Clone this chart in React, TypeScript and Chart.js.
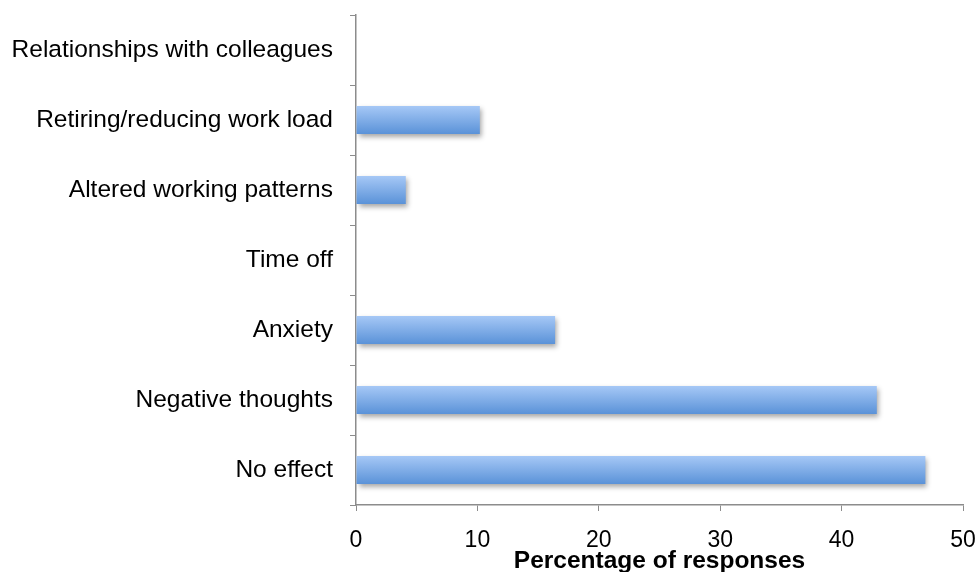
import React, { useEffect, useRef } from "react";
import { Chart, registerables } from "chart.js";

Chart.register(...registerables);

const categories = [
  "Relationships with colleagues",
  "Retiring/reducing work load",
  "Altered working patterns",
  "Time off",
  "Anxiety",
  "Negative thoughts",
  "No effect",
];
const values = [0, 10.2, 4.1, 0, 16.4, 42.9, 46.9];
const xTicks = [0, 10, 20, 30, 40, 50];
const xTitle = "Percentage of responses";

const shadowPlugin = {
  id: "barShadow",
  beforeDatasetsDraw(chart: any) {
    const c = chart.ctx;
    c.save();
    c.shadowColor = "rgba(0,0,0,0.35)";
    c.shadowBlur = 5;
    c.shadowOffsetX = 2;
    c.shadowOffsetY = 3;
  },
  afterDatasetsDraw(chart: any) {
    chart.ctx.restore();
  },
};

const noOverflow = (scale: any) => {
  scale.paddingTop = 0;
  scale.paddingBottom = 0;
  scale.paddingLeft = 0;
  scale.paddingRight = 0;
};

export default function App() {
  const ref = useRef<HTMLCanvasElement | null>(null);
  useEffect(() => {
    document.body.style.margin = "0";
    const canvas = ref.current!;
    const chart = new Chart(canvas, {
      type: "bar",
      data: {
        labels: categories,
        datasets: [
          {
            data: values,
            barPercentage: 0.4,
            categoryPercentage: 1.0,
            borderWidth: 0,
            backgroundColor: (ctx: any) => {
              const ch = ctx.chart;
              const ys = ch.scales && ch.scales.y;
              if (!ys || !ch.chartArea) return "#7aaae8";
              const cy = ys.getPixelForValue(ctx.dataIndex);
              const h = (ys.height / categories.length) * 0.4;
              const g = ch.ctx.createLinearGradient(0, cy - h / 2, 0, cy + h / 2);
              g.addColorStop(0, "#a6c8f6");
              g.addColorStop(1, "#5a92d8");
              return g;
            },
          },
        ],
      },
      options: {
        indexAxis: "y",
        animation: false,
        responsive: false,
        maintainAspectRatio: false,
        layout: { padding: { top: 15, right: 14, left: 0, bottom: -4 } },
        plugins: { legend: { display: false }, tooltip: { enabled: false } },
        scales: {
          x: {
            min: 0,
            max: 50,
            afterBuildTicks: (scale: any) => {
              scale.ticks = xTicks.map((v) => ({ value: v }));
            },
            afterFit: noOverflow,
            grid: {
              drawOnChartArea: false,
              drawTicks: true,
              tickLength: 6,
              color: "#8c8c8c",
            },
            border: { color: "#8c8c8c", width: 1.5 },
            ticks: {
              color: "#000",
              font: { family: "Liberation Sans, Arial", size: 23 },
              padding: 16,
              maxRotation: 0,
            },
            title: {
              display: true,
              text: xTitle,
              color: "#000",
              font: { family: "Liberation Sans, Arial", size: 24.5, weight: "bold" },
              padding: { top: -24, bottom: 0 },
            },
          },
          y: {
            afterFit: (scale: any) => {
              scale.width = 356;
              noOverflow(scale);
            },
            grid: {
              drawOnChartArea: false,
              drawTicks: true,
              tickLength: 6,
              color: "#8c8c8c",
              offset: true,
            },
            border: { color: "#8c8c8c", width: 1.5 },
            ticks: {
              color: "#000",
              font: { family: "Liberation Sans, Arial", size: 24.5 },
              padding: 17,
            },
          },
        },
      },
      plugins: [shadowPlugin],
    } as any);
    return () => chart.destroy();
  }, []);
  return (
    <div style={{ width: 977, height: 572, background: "#fff" }}>
      <canvas ref={ref} width={977} height={572} style={{ display: "block" }} />
    </div>
  );
}
